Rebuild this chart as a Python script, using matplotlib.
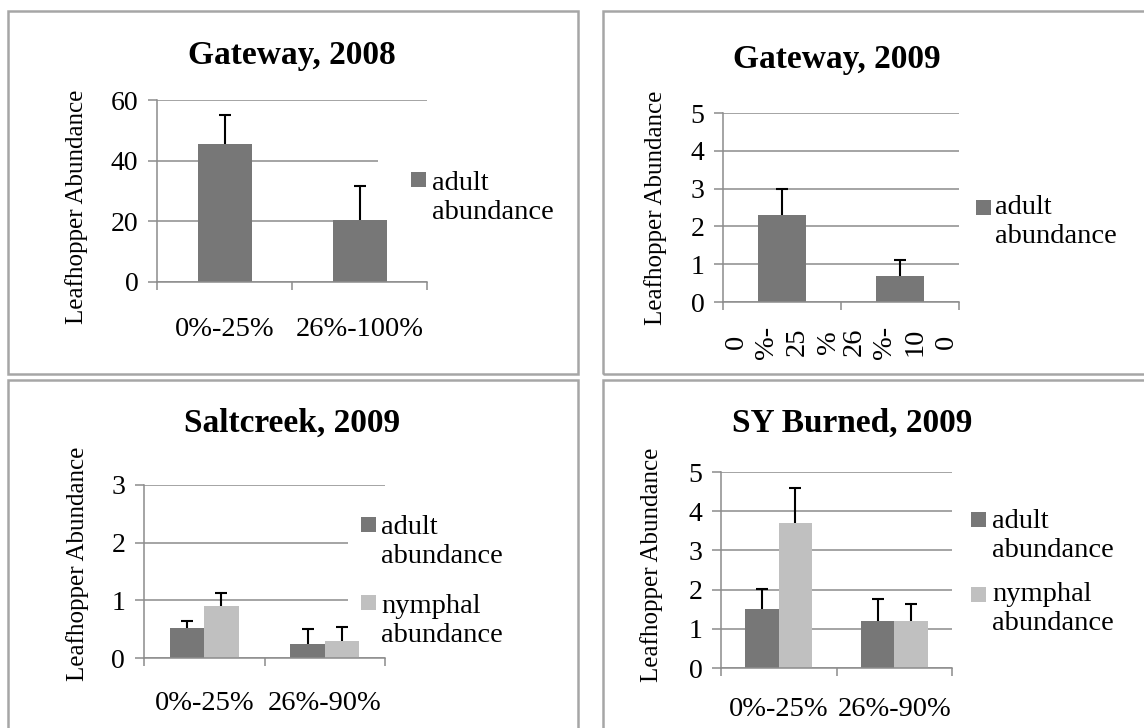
import matplotlib
matplotlib.use('Agg')
import matplotlib.pyplot as plt
from matplotlib.patches import Rectangle
from matplotlib.transforms import Bbox
import numpy as np

W, H = 1144, 728

# Gateway, 2008
gw08_categories = ['0%-25%', '26%-100%']
gw08_adult = [45.5, 20.4]
gw08_adult_err = [9.6, 11.2]

# Gateway, 2009 (labels wrap because the plot is narrow)
gw09_categories = ['0\n%-\n25\n%', '26\n%-\n10\n0']
gw09_adult = [2.3, 0.7]
gw09_adult_err = [0.7, 0.4]

# Saltcreek, 2009
sc09_categories = ['0%-25%', '26%-90%']
sc09_adult = [0.52, 0.25]
sc09_adult_err = [0.12, 0.25]
sc09_nymph = [0.9, 0.3]
sc09_nymph_err = [0.23, 0.24]

# SY Burned, 2009
sy09_categories = ['0%-25%', '26%-90%']
sy09_adult = [1.5, 1.2]
sy09_adult_err = [0.52, 0.57]
sy09_nymph = [3.7, 1.2]
sy09_nymph_err = [0.9, 0.43]

series_names = ['adult\nabundance', 'nymphal\nabundance']

ADULT = '#777777'
NYMPH = '#c0c0c0'
GRID = '#8c8c8c'
FRAME = '#a6a6a6'

plt.rcParams['font.family'] = ['Liberation Serif', 'DejaVu Serif']

fig = plt.figure(figsize=(W / 100, H / 100), dpi=100)


def fx(x):
    return x / W


def fy(y):
    # pixel row measured from the top -> figure fraction
    return 1 - y / H


def frame(left, top, right, bottom):
    fig.patches.append(Rectangle((fx(left), fy(bottom)), (right - left) / W, (bottom - top) / H,
                                 transform=fig.transFigure, fill=False,
                                 edgecolor=FRAME, lw=1.8, zorder=0))


def panel(box, title, title_pos, cats, yticks, series, width, label_pad,
          ylabel_pos, legend, cover=None, label_rot=0, label_size=20.5):
    left, top, right, bottom = box
    ax = fig.add_axes([fx(left), fy(bottom), (right - left) / W, (bottom - top) / H])
    x = np.arange(len(cats))
    n = len(series)
    bars = []
    for i, (vals, errs, color) in enumerate(series):
        off = (i - (n - 1) / 2) * width
        b = ax.bar(x + off, vals, width, color=color, zorder=2)
        bars.append(b)
        eb = ax.errorbar(x + off, vals, yerr=[np.zeros(len(vals)), errs], fmt='none',
                         ecolor='black', elinewidth=1.5, capsize=4, capthick=1.5, zorder=3)
        # only the upper cap is drawn
        eb.lines[1][0].set_visible(False)

    ax.set_xlim(-0.5, len(cats) - 0.5)
    ax.set_ylim(yticks[0], yticks[-1])
    ax.set_yticks(yticks)
    ax.set_xticks(np.arange(len(cats) + 1) - 0.5)
    ax.set_xticklabels([])
    ax.set_xticks(x, minor=True)
    ax.set_xticklabels(cats, minor=True, rotation=label_rot)

    ax.set_axisbelow(True)
    ax.yaxis.grid(True, color=GRID, lw=1.1)
    for s in ['top', 'right']:
        ax.spines[s].set_visible(False)
    for s in ['left', 'bottom']:
        ax.spines[s].set_color(GRID)
        ax.spines[s].set_linewidth(1.1)
    ax.tick_params(axis='y', length=6.5, width=1.1, color=GRID, labelsize=20, pad=7)
    ax.tick_params(axis='x', which='major', length=6, width=1.1, color=GRID)
    ax.tick_params(axis='x', which='minor', length=0, labelsize=label_size, pad=label_pad)

    # white legend area sits over the gridlines but under the bars
    if cover is not None:
        cl, ct, cr, cb = cover
        ax.add_patch(Rectangle((fx(cl), fy(cb)), (cr - cl) / W, (cb - ct) / H,
                               transform=fig.transFigure, facecolor='white',
                               edgecolor='none', zorder=1))

    fig.text(fx(title_pos[0]), fy(title_pos[1]), title, ha='center', va='baseline',
             fontsize=24, fontweight='bold')
    fig.text(fx(ylabel_pos[0]), fy(ylabel_pos[1]), 'Leafhopper Abundance',
             rotation=90, ha='center', va='center', fontsize=18)

    sq_x, txt_x, entries = legend
    for b, name, (sq_top, txt_y) in zip(bars, series_names, entries):
        fig.patches.append(Rectangle((fx(sq_x), fy(sq_top + 15)), 15 / W, 15 / H,
                                     transform=fig.transFigure,
                                     facecolor=b.patches[0].get_facecolor(),
                                     edgecolor='none'))
        fig.text(fx(txt_x), fy(txt_y), name, ha='left', va='center', fontsize=20.5)
    return ax


frame(8, 11, 578, 374)
frame(603, 11, 1160, 374)
frame(8, 380, 578, 740)
frame(603, 380, 1160, 740)

panel((157, 100, 427, 282), 'Gateway, 2008', (292, 64), gw08_categories,
      [0, 20, 40, 60], [(gw08_adult, gw08_adult_err, ADULT)], 0.4, 25,
      (77, 207), (411, 432, [(172, 198)]), cover=(378, 130, 430, 262))

ax2 = panel((723, 113, 959, 302), 'Gateway, 2009', (837, 68), gw09_categories,
            [0, 1, 2, 3, 4, 5], [(gw09_adult, gw09_adult_err, ADULT)], 0.4, 17,
            (656, 208), (976, 995, [(200, 222)]), label_rot=90, label_size=20.5)
# wrapped labels are cut off at the right end of the plot area
for lbl in ax2.xaxis.get_minorticklabels():
    lbl.set_linespacing(1.3)
    lbl.set_clip_on(True)
    lbl.set_clip_box(Bbox.from_extents(0, 0, 959, H))

panel((144, 485, 385, 658), 'Saltcreek, 2009', (292, 432), sc09_categories,
      [0, 1, 2, 3], [(sc09_adult, sc09_adult_err, ADULT), (sc09_nymph, sc09_nymph_err, NYMPH)],
      0.285, 24, (78, 564), (361, 381, [(517, 542), (595, 621)]),
      cover=(348, 500, 390, 645))

panel((721, 472, 952, 668), 'SY Burned, 2009', (852, 432), sy09_categories,
      [0, 1, 2, 3, 4, 5], [(sy09_adult, sy09_adult_err, ADULT), (sy09_nymph, sy09_nymph_err, NYMPH)],
      0.29, 21, (652, 565), (971, 992, [(512, 536), (587, 609)]))

fig.savefig('out.png', dpi=100)
